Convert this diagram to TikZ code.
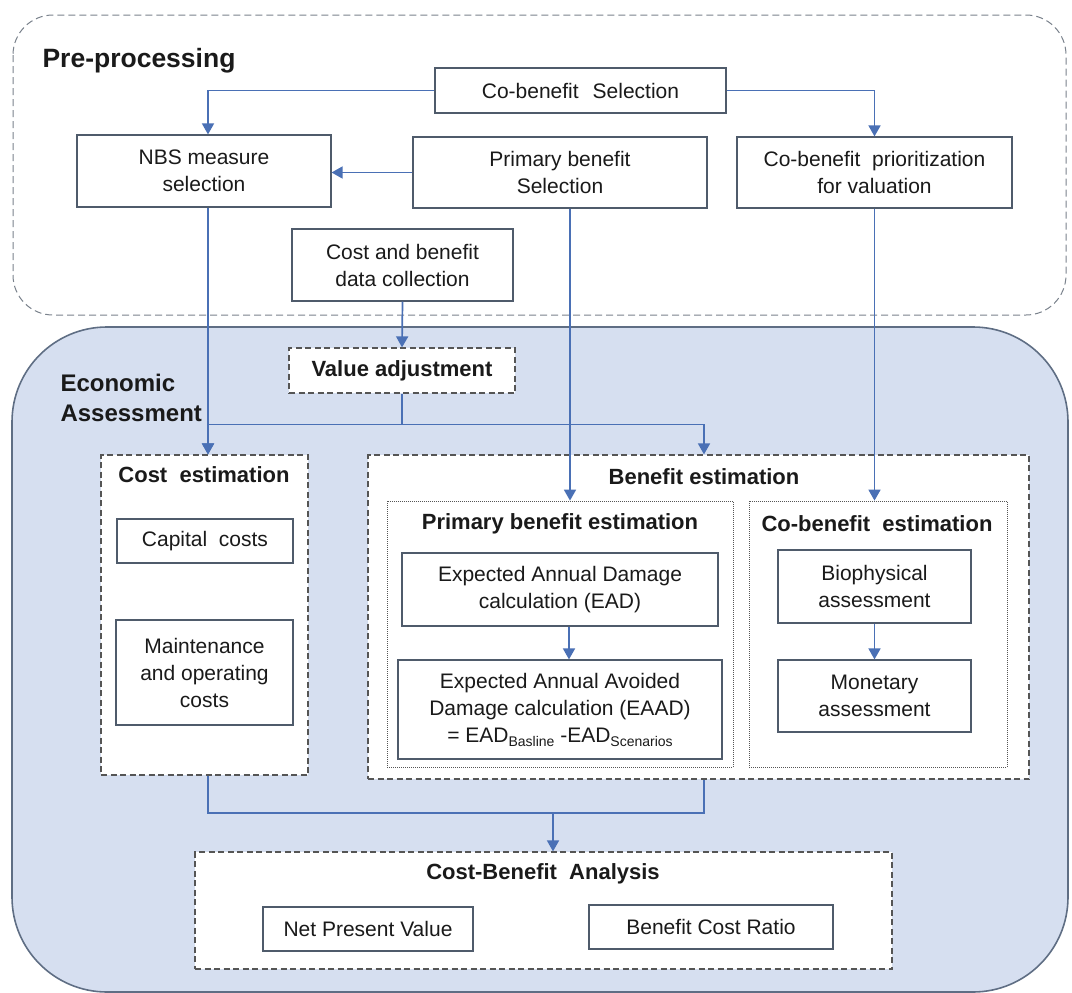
\documentclass[tikz,border=0pt]{standalone}
\usepackage{fontspec}
\setmainfont{Liberation Sans}
\usepackage{tikz}
\usetikzlibrary{positioning,calc,arrows.meta}
\usepackage{xcolor}
\definecolor{econbg}{HTML}{D6DFF0}
\definecolor{econline}{HTML}{5F6E84}
\definecolor{boxline}{HTML}{4F5B6B}
\definecolor{flowblue}{HTML}{4A70B5}
\definecolor{dashgray}{HTML}{555555}
\definecolor{pregray}{HTML}{7A828C}
\definecolor{textmain}{HTML}{1A1A1A}

\newcommand{\boxfont}{\fontsize{21}{27}\selectfont}
\newcommand{\headfont}{\fontsize{22}{26}\selectfont\bfseries}
\newcommand{\subidx}[1]{\raisebox{-4pt}{\fontsize{14}{14}\selectfont #1}}

\begin{document}
\begin{tikzpicture}[x=1pt,y=-1pt,
    stepbox/.style={draw=boxline,line width=1.2pt,fill=white,align=center,inner sep=0pt,text=textmain,font=\boxfont},
    groupbox/.style={draw=dashgray,line width=1.2pt,dash pattern=on 6pt off 3.5pt,fill=white,inner sep=0pt},
    subgroup/.style={draw=dashgray,line width=0.8pt,dash pattern=on 1pt off 1pt,inner sep=0pt},
    heading/.style={font=\headfont,text=textmain},
    flow/.style={draw=flowblue,line width=1.7pt,-{Triangle[width=12pt,length=11pt]}},
    flowline/.style={draw=flowblue,line width=1.7pt}]
    \useasboundingbox (0,0) rectangle (1072,993);

    % Pre-processing frame
    \fill[white,rounded corners=40pt] (13,15) rectangle (1066,315);
    \draw[pregray,line width=1pt,dash pattern=on 7pt off 4pt,rounded corners=40pt] (13,15) rectangle (1066,315);
    \node[anchor=base west,font=\fontsize{26.5}{30}\selectfont\bfseries,text=textmain] (prelabel) at (39,67) {Pre-processing};

    % Economic assessment frame
    \fill[econbg,rounded corners=95pt] (12,327) rectangle (1068,992);
    \draw[econline,line width=1.6pt,rounded corners=95pt] (12,327) rectangle (1068,992);
    \node[anchor=west,align=left,font=\fontsize{24}{30}\selectfont\bfseries,text=textmain] (econlabel) at (57,398) {Economic\\Assessment};

    % Group boxes
    \node[groupbox,minimum width=207pt,minimum height=320pt] (costest) at (204.5,615) {};
    \node[groupbox,minimum width=661pt,minimum height=324pt] (benest) at (698.5,617) {};
    \node[subgroup,minimum width=346pt,minimum height=266pt] (primest) at (560,634) {};
    \node[subgroup,minimum width=258pt,minimum height=266pt] (cobest) at (878,634) {};
    \node[groupbox,minimum width=697pt,minimum height=117pt] (cba) at (543.5,910.5) {};

    % Group headings
    \node[heading] (costtitle) at (204,475) {Cost\ \ estimation};
    \node[heading] (bentitle) at (704,477) {Benefit estimation};
    \node[heading] (primtitle) at (560,524) {Primary benefit estimation};
    \node[heading] (cobtitle) at (877,524) {Co-benefit\ \ estimation};
    \node[heading] (cbatitle) at (543,874) {Cost-Benefit\ \ Analysis};

    % Pre-processing steps
    \node[stepbox,minimum width=291pt,minimum height=45pt] (cobsel) at (580.5,90.5) {Co-benefit\hspace{14pt}Selection};
    \node[stepbox,minimum width=254pt,minimum height=72pt] (nbs) at (204,171) {NBS measure\\selection};
    \node[stepbox,minimum width=294pt,minimum height=71pt] (primsel) at (560,172.5) {Primary benefit\\Selection};
    \node[stepbox,minimum width=275pt,minimum height=71pt] (cobprio) at (874.5,172.5) {Co-benefit\ \ prioritization\\for valuation};
    \node[stepbox,minimum width=221pt,minimum height=72pt] (datacoll) at (402.5,265) {Cost and benefit\\data collection};
    \node[groupbox,minimum width=226pt,minimum height=45pt,font=\headfont,text=textmain] (valadj) at (402,370.5) {Value adjustment};

    % Economic assessment steps
    \node[stepbox,minimum width=176pt,minimum height=44pt] (capcost) at (205,541) {Capital\ \ costs};
    \node[stepbox,minimum width=177pt,minimum height=105pt] (maint) at (204.5,672.5) {Maintenance\\and operating\\costs};
    \node[stepbox,minimum width=316pt,minimum height=73pt] (ead) at (560,589.5) {Expected Annual Damage\\calculation (EAD)};
    \node[stepbox,minimum width=324pt,minimum height=99pt] (eaad) at (560,709.5) {Expected Annual Avoided\\Damage calculation (EAAD)\\= EAD\subidx{Basline} -EAD\subidx{Scenarios}};
    \node[stepbox,minimum width=193pt,minimum height=73pt] (bio) at (874.5,586.5) {Biophysical\\assessment};
    \node[stepbox,minimum width=193pt,minimum height=72pt] (mon) at (874.5,696) {Monetary\\assessment};
    \node[stepbox,minimum width=210pt,minimum height=44pt] (npv) at (368,929) {Net Present Value};
    \node[stepbox,minimum width=244pt,minimum height=44pt] (bcr) at (711,927) {Benefit Cost Ratio};

    % Connectors
    \coordinate (split) at ($(valadj.south)+(0,31)$);
    \coordinate (join) at (553,813);
    \draw[flow] (cobsel.west) -| ([xshift=4pt]nbs.north);
    \draw[flow] (cobsel.east) -| (cobprio.north);
    \draw[flow] (primsel.west) -- (primsel.west -| nbs.east);
    \draw[flow] ([xshift=4pt]nbs.south) -- ([xshift=4pt]nbs.south |- costest.north);
    \draw[flow] (datacoll.south) -- (valadj.north);
    \draw[flowline] (valadj.south) -- (split);
    \draw[flow] (split) -| ([xshift=3.5pt]costest.north);
    \draw[flow] (split) -| (bentitle |- benest.north);
    \draw[flow] ([xshift=10pt]primsel.south) -- ([xshift=10pt]primest.north);
    \draw[flow] (cobprio.south) -- (cobprio.south |- cobest.north);
    \draw[flow] ([xshift=9pt]ead.south) -- ([xshift=9pt]eaad.north);
    \draw[flow] (bio.south) -- (mon.north);
    \draw[flowline] ([xshift=3.5pt]costest.south) |- (join);
    \draw[flowline] (bentitle |- benest.south) |- (join);
    \draw[flow] (join) -- (join |- cba.north);
\end{tikzpicture}
\end{document}
